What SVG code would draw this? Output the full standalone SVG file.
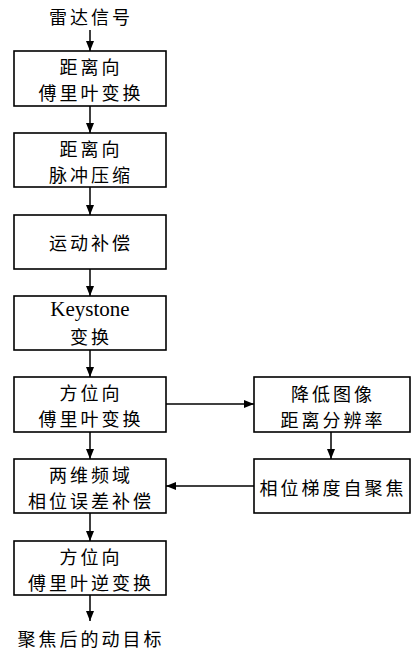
<svg xmlns="http://www.w3.org/2000/svg" width="417" height="651" viewBox="0 0 417 651">
<style>
.box{fill:#fff;stroke:#000;stroke-width:1.6}
.t{font-family:"Noto Sans CJK SC","Liberation Sans",sans-serif;font-size:18px;text-anchor:middle;dominant-baseline:central;fill:#000;letter-spacing:3px}
.k{font-family:"Liberation Serif",serif;font-size:21px;text-anchor:middle;dominant-baseline:central;fill:#000}
.c{stroke:#000;stroke-width:1.5;fill:none;marker-end:url(#ah)}
</style>
<defs>
<marker id="ah" viewBox="0 0 10 8" refX="10" refY="4" markerWidth="10" markerHeight="8" markerUnits="userSpaceOnUse" orient="auto">
<path d="M0,0 L10,4 L0,8 Z" fill="#000"/>
</marker>
</defs>
<g id="connectors">
<line class="c" x1="90" y1="30" x2="90" y2="51"/>
<line class="c" x1="90" y1="106" x2="90" y2="133"/>
<line class="c" x1="90" y1="187" x2="90" y2="215"/>
<line class="c" x1="90" y1="269" x2="90" y2="296"/>
<line class="c" x1="90" y1="350" x2="90" y2="377"/>
<line class="c" x1="90" y1="432" x2="90" y2="459"/>
<line class="c" x1="90" y1="513" x2="90" y2="541"/>
<line class="c" x1="90" y1="595" x2="90" y2="621"/>
<line class="c" x1="166" y1="404" x2="254" y2="404"/>
<line class="c" x1="331" y1="432" x2="331" y2="459"/>
<line class="c" x1="254" y1="486" x2="166" y2="486"/>
</g>
<g id="start"><text class="t" x="91" y="16">雷达信号</text></g>
<g id="n1"><rect class="box" x="14" y="51" width="152" height="55"/><text class="t" x="91" y="66">距离向</text><text class="t" x="91" y="92">傅里叶变换</text></g>
<g id="n2"><rect class="box" x="14" y="133" width="152" height="54"/><text class="t" x="91" y="148">距离向</text><text class="t" x="91" y="174">脉冲压缩</text></g>
<g id="n3"><rect class="box" x="14" y="215" width="152" height="54"/><text class="t" x="91" y="242">运动补偿</text></g>
<g id="n4"><rect class="box" x="14" y="296" width="152" height="54"/><text class="k" x="90" y="309">Keystone</text><text class="t" x="91" y="336">变换</text></g>
<g id="n5"><rect class="box" x="14" y="377" width="152" height="55"/><text class="t" x="91" y="392">方位向</text><text class="t" x="91" y="418">傅里叶变换</text></g>
<g id="n6"><rect class="box" x="14" y="459" width="152" height="54"/><text class="t" x="91" y="474">两维频域</text><text class="t" x="91" y="500">相位误差补偿</text></g>
<g id="n7"><rect class="box" x="14" y="541" width="152" height="54"/><text class="t" x="91" y="556">方位向</text><text class="t" x="91" y="582">傅里叶逆变换</text></g>
<g id="r1"><rect class="box" x="254" y="377" width="156" height="55"/><text class="t" x="333" y="393">降低图像</text><text class="t" x="333" y="419">距离分辨率</text></g>
<g id="r2"><rect class="box" x="254" y="459" width="156" height="54"/><text class="t" x="333" y="487">相位梯度自聚焦</text></g>
<g id="end"><text class="t" x="91" y="638">聚焦后的动目标</text></g>
</svg>
